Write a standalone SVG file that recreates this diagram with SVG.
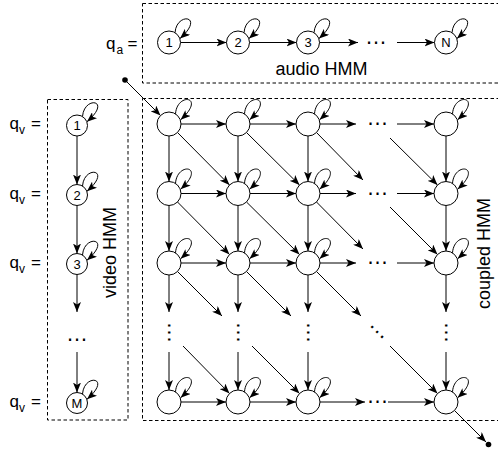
<svg xmlns="http://www.w3.org/2000/svg" width="498" height="450" viewBox="0 0 498 450">
<defs>
<marker id="a" markerUnits="userSpaceOnUse" markerWidth="10" markerHeight="8" viewBox="0 0 10 8" refX="10" refY="4" orient="auto">
<path d="M0,0 L10,4 L0,8 L2.5,4 z" fill="#000"/>
</marker>
<style>
.n{fill:#fff;stroke:#000;stroke-width:1}
.e{fill:none;stroke:#000;stroke-width:1;marker-end:url(#a)}
.box{fill:none;stroke:#000;stroke-width:1;stroke-dasharray:3.5 2.5}
text{font-family:"Liberation Sans",Arial,sans-serif;fill:#000}
.lab{font-size:13px;text-anchor:middle}
.big{font-size:17px}
.sub{font-size:12px}
.t{font-size:18px;text-anchor:middle}
.dots{font-size:22px;text-anchor:middle}
</style>
</defs>
<rect width="498" height="450" fill="#fff"/>

<g id="boxes">
<rect class="box" x="142.5" y="3.5" width="360" height="79.5"/>
<rect class="box" x="47.5" y="99.5" width="80.5" height="320.5"/>
<rect class="box" x="142.5" y="98.5" width="360" height="322"/>
</g>

<g id="labels">
<text class="big" x="106" y="48.5">q</text><text class="sub" x="116.5" y="53.5">a</text><text class="big" x="127.5" y="48.5">=</text>
<text class="big" x="9.5" y="129">q</text><text class="sub" x="19" y="134">v</text><text class="big" x="31" y="129">=</text>
<text class="big" x="9.5" y="198.5">q</text><text class="sub" x="19" y="203.5">v</text><text class="big" x="31" y="198.5">=</text>
<text class="big" x="9.5" y="268">q</text><text class="sub" x="19" y="273">v</text><text class="big" x="31" y="268">=</text>
<text class="big" x="9.5" y="407">q</text><text class="sub" x="19" y="412">v</text><text class="big" x="31" y="407">=</text>
<text class="t" x="321.5" y="75">audio HMM</text>
<text class="t" transform="translate(116,252.5) rotate(-90)">video HMM</text>
<text class="t" transform="translate(490,253.5) rotate(-90)">coupled HMM</text>
<text class="dots" x="376" y="43.6">…</text>
<text class="dots" x="77" y="341.1">…</text>
<text class="dots" x="377.5" y="125.1">…</text>
<text class="dots" x="377.5" y="194.6">…</text>
<text class="dots" x="377.5" y="264.1">…</text>
<text class="dots" x="377.5" y="403.1">…</text>
<text class="dots" x="169" y="333.6" transform="rotate(90 169 332.5)">…</text>
<text class="dots" x="238" y="333.6" transform="rotate(90 238 332.5)">…</text>
<text class="dots" x="308" y="333.6" transform="rotate(90 308 332.5)">…</text>
<text class="dots" x="446" y="333.6" transform="rotate(90 446 332.5)">…</text>
<text class="dots" x="377" y="333.1" transform="rotate(45 377 332)">…</text>
</g>

<g id="connectors">
<path class="e" d="M180.5,42.5 H226.5"/>
<path class="e" d="M249.5,42.5 H296.5"/>
<path class="e" d="M319.5,42.5 H358"/>
<path class="e" d="M397,42.5 H434.5"/>
<path class="e" transform="translate(169,42.5)" d="M6,-9.8 C7.5,-31 37,-27 11,-4"/>
<path class="e" transform="translate(238,42.5)" d="M6,-9.8 C7.5,-31 37,-27 11,-4"/>
<path class="e" transform="translate(308,42.5)" d="M6,-9.8 C7.5,-31 37,-27 11,-4"/>
<path class="e" transform="translate(446,42.5)" d="M6,-9.8 C7.5,-31 37,-27 11,-4"/>
<path class="e" d="M77,136 V184.5"/>
<path class="e" d="M77,205.5 V253.5"/>
<path class="e" d="M77,274.5 V312"/>
<path class="e" d="M77,352 V392.5"/>
<path class="e" transform="translate(77,125.5)" d="M5.5,-9 C7,-30 36,-26 10,-3.8"/>
<path class="e" transform="translate(77,195)" d="M5.5,-9 C7,-30 36,-26 10,-3.8"/>
<path class="e" transform="translate(77,264)" d="M5.5,-9 C7,-30 36,-26 10,-3.8"/>
<path class="e" transform="translate(77,403)" d="M5.5,-9 C7,-30 36,-26 10,-3.8"/>
<path class="e" d="M181,124 H226"/><path class="e" d="M250,124 H296"/><path class="e" d="M320,124 H356"/><path class="e" d="M397,124 H434"/>
<path class="e" d="M181,193.5 H226"/><path class="e" d="M250,193.5 H296"/><path class="e" d="M320,193.5 H356"/><path class="e" d="M397,193.5 H434"/>
<path class="e" d="M181,263 H226"/><path class="e" d="M250,263 H296"/><path class="e" d="M320,263 H356"/><path class="e" d="M397,263 H434"/>
<path class="e" d="M181,402 H226"/><path class="e" d="M250,402 H296"/><path class="e" d="M320,402 H365"/><path class="e" d="M388,402 H434"/>
<path class="e" d="M169,136 V181.5"/><path class="e" d="M169,205.5 V251"/><path class="e" d="M169,275 V312"/><path class="e" d="M169,352 V390"/>
<path class="e" d="M238,136 V181.5"/><path class="e" d="M238,205.5 V251"/><path class="e" d="M238,275 V312"/><path class="e" d="M238,352 V390"/>
<path class="e" d="M308,136 V181.5"/><path class="e" d="M308,205.5 V251"/><path class="e" d="M308,275 V312"/><path class="e" d="M308,352 V390"/>
<path class="e" d="M446,136 V181.5"/><path class="e" d="M446,205.5 V251"/><path class="e" d="M446,275 V312"/><path class="e" d="M446,352 V390"/>
<path class="e" d="M177.5,132.5 L229.5,185"/><path class="e" d="M246.5,132.5 L299.5,185"/><path class="e" d="M316.5,132.5 L363,180"/><path class="e" d="M390,138 L437.5,185"/>
<path class="e" d="M177.5,202 L229.5,254.5"/><path class="e" d="M246.5,202 L299.5,254.5"/><path class="e" d="M316.5,202 L363,249"/><path class="e" d="M390,207 L437.5,254.5"/>
<path class="e" d="M177.5,271.5 L222,316"/><path class="e" d="M246.5,271.5 L291,316"/><path class="e" d="M316.5,271.5 L361,316"/>
<path class="e" d="M183,346 L229.5,393.5"/><path class="e" d="M252,346 L299.5,393.5"/><path class="e" d="M390,346 L437.5,393.5"/>
<path class="e" transform="translate(169,124)" d="M6.5,-10.1 C8,-32 38,-28 11.6,-4.2"/>
<path class="e" transform="translate(238,124)" d="M6.5,-10.1 C8,-32 38,-28 11.6,-4.2"/>
<path class="e" transform="translate(308,124)" d="M6.5,-10.1 C8,-32 38,-28 11.6,-4.2"/>
<path class="e" transform="translate(446,124)" d="M6.5,-10.1 C8,-32 38,-28 11.6,-4.2"/>
<path class="e" transform="translate(169,193.5)" d="M6.5,-10.1 C8,-32 38,-28 11.6,-4.2"/>
<path class="e" transform="translate(238,193.5)" d="M6.5,-10.1 C8,-32 38,-28 11.6,-4.2"/>
<path class="e" transform="translate(308,193.5)" d="M6.5,-10.1 C8,-32 38,-28 11.6,-4.2"/>
<path class="e" transform="translate(446,193.5)" d="M6.5,-10.1 C8,-32 38,-28 11.6,-4.2"/>
<path class="e" transform="translate(169,263)" d="M6.5,-10.1 C8,-32 38,-28 11.6,-4.2"/>
<path class="e" transform="translate(238,263)" d="M6.5,-10.1 C8,-32 38,-28 11.6,-4.2"/>
<path class="e" transform="translate(308,263)" d="M6.5,-10.1 C8,-32 38,-28 11.6,-4.2"/>
<path class="e" transform="translate(446,263)" d="M6.5,-10.1 C8,-32 38,-28 11.6,-4.2"/>
<path class="e" transform="translate(169,402)" d="M6.5,-10.1 C8,-32 38,-28 11.6,-4.2"/>
<path class="e" transform="translate(238,402)" d="M6.5,-10.1 C8,-32 38,-28 11.6,-4.2"/>
<path class="e" transform="translate(308,402)" d="M6.5,-10.1 C8,-32 38,-28 11.6,-4.2"/>
<path class="e" transform="translate(446,402)" d="M6.5,-10.1 C8,-32 38,-28 11.6,-4.2"/>
<circle cx="125" cy="80" r="2.8" fill="#000"/>
<path class="e" d="M125,80 L160.5,115.5"/>
<path class="e" d="M454.5,410.5 L486,442"/>
<circle cx="488.5" cy="444.5" r="2.8" fill="#000"/>
</g>

<g id="audio-nodes">
<g id="a1"><circle class="n" cx="169" cy="42.5" r="11.5"/><text class="lab" x="169" y="47">1</text></g>
<g id="a2"><circle class="n" cx="238" cy="42.5" r="11.5"/><text class="lab" x="238" y="47">2</text></g>
<g id="a3"><circle class="n" cx="308" cy="42.5" r="11.5"/><text class="lab" x="308" y="47">3</text></g>
<g id="aN"><circle class="n" cx="446" cy="42.5" r="11.5"/><text class="lab" x="446" y="47">N</text></g>
</g>
<g id="video-nodes">
<g id="v1"><circle class="n" cx="77" cy="125.5" r="10.5"/><text class="lab" x="77" y="130">1</text></g>
<g id="v2"><circle class="n" cx="77" cy="195" r="10.5"/><text class="lab" x="77" y="199.5">2</text></g>
<g id="v3"><circle class="n" cx="77" cy="264" r="10.5"/><text class="lab" x="77" y="268.5">3</text></g>
<g id="vM"><circle class="n" cx="77" cy="403" r="10.5"/><text class="lab" x="77" y="407.5">M</text></g>
</g>
<g id="coupled-nodes">
<g id="c11"><circle class="n" cx="169" cy="124" r="12"/></g>
<g id="c12"><circle class="n" cx="238" cy="124" r="12"/></g>
<g id="c13"><circle class="n" cx="308" cy="124" r="12"/></g>
<g id="c1N"><circle class="n" cx="446" cy="124" r="12"/></g>
<g id="c21"><circle class="n" cx="169" cy="193.5" r="12"/></g>
<g id="c22"><circle class="n" cx="238" cy="193.5" r="12"/></g>
<g id="c23"><circle class="n" cx="308" cy="193.5" r="12"/></g>
<g id="c2N"><circle class="n" cx="446" cy="193.5" r="12"/></g>
<g id="c31"><circle class="n" cx="169" cy="263" r="12"/></g>
<g id="c32"><circle class="n" cx="238" cy="263" r="12"/></g>
<g id="c33"><circle class="n" cx="308" cy="263" r="12"/></g>
<g id="c3N"><circle class="n" cx="446" cy="263" r="12"/></g>
<g id="cM1"><circle class="n" cx="169" cy="402" r="12"/></g>
<g id="cM2"><circle class="n" cx="238" cy="402" r="12"/></g>
<g id="cM3"><circle class="n" cx="308" cy="402" r="12"/></g>
<g id="cMN"><circle class="n" cx="446" cy="402" r="12"/></g>
</g>
</svg>
